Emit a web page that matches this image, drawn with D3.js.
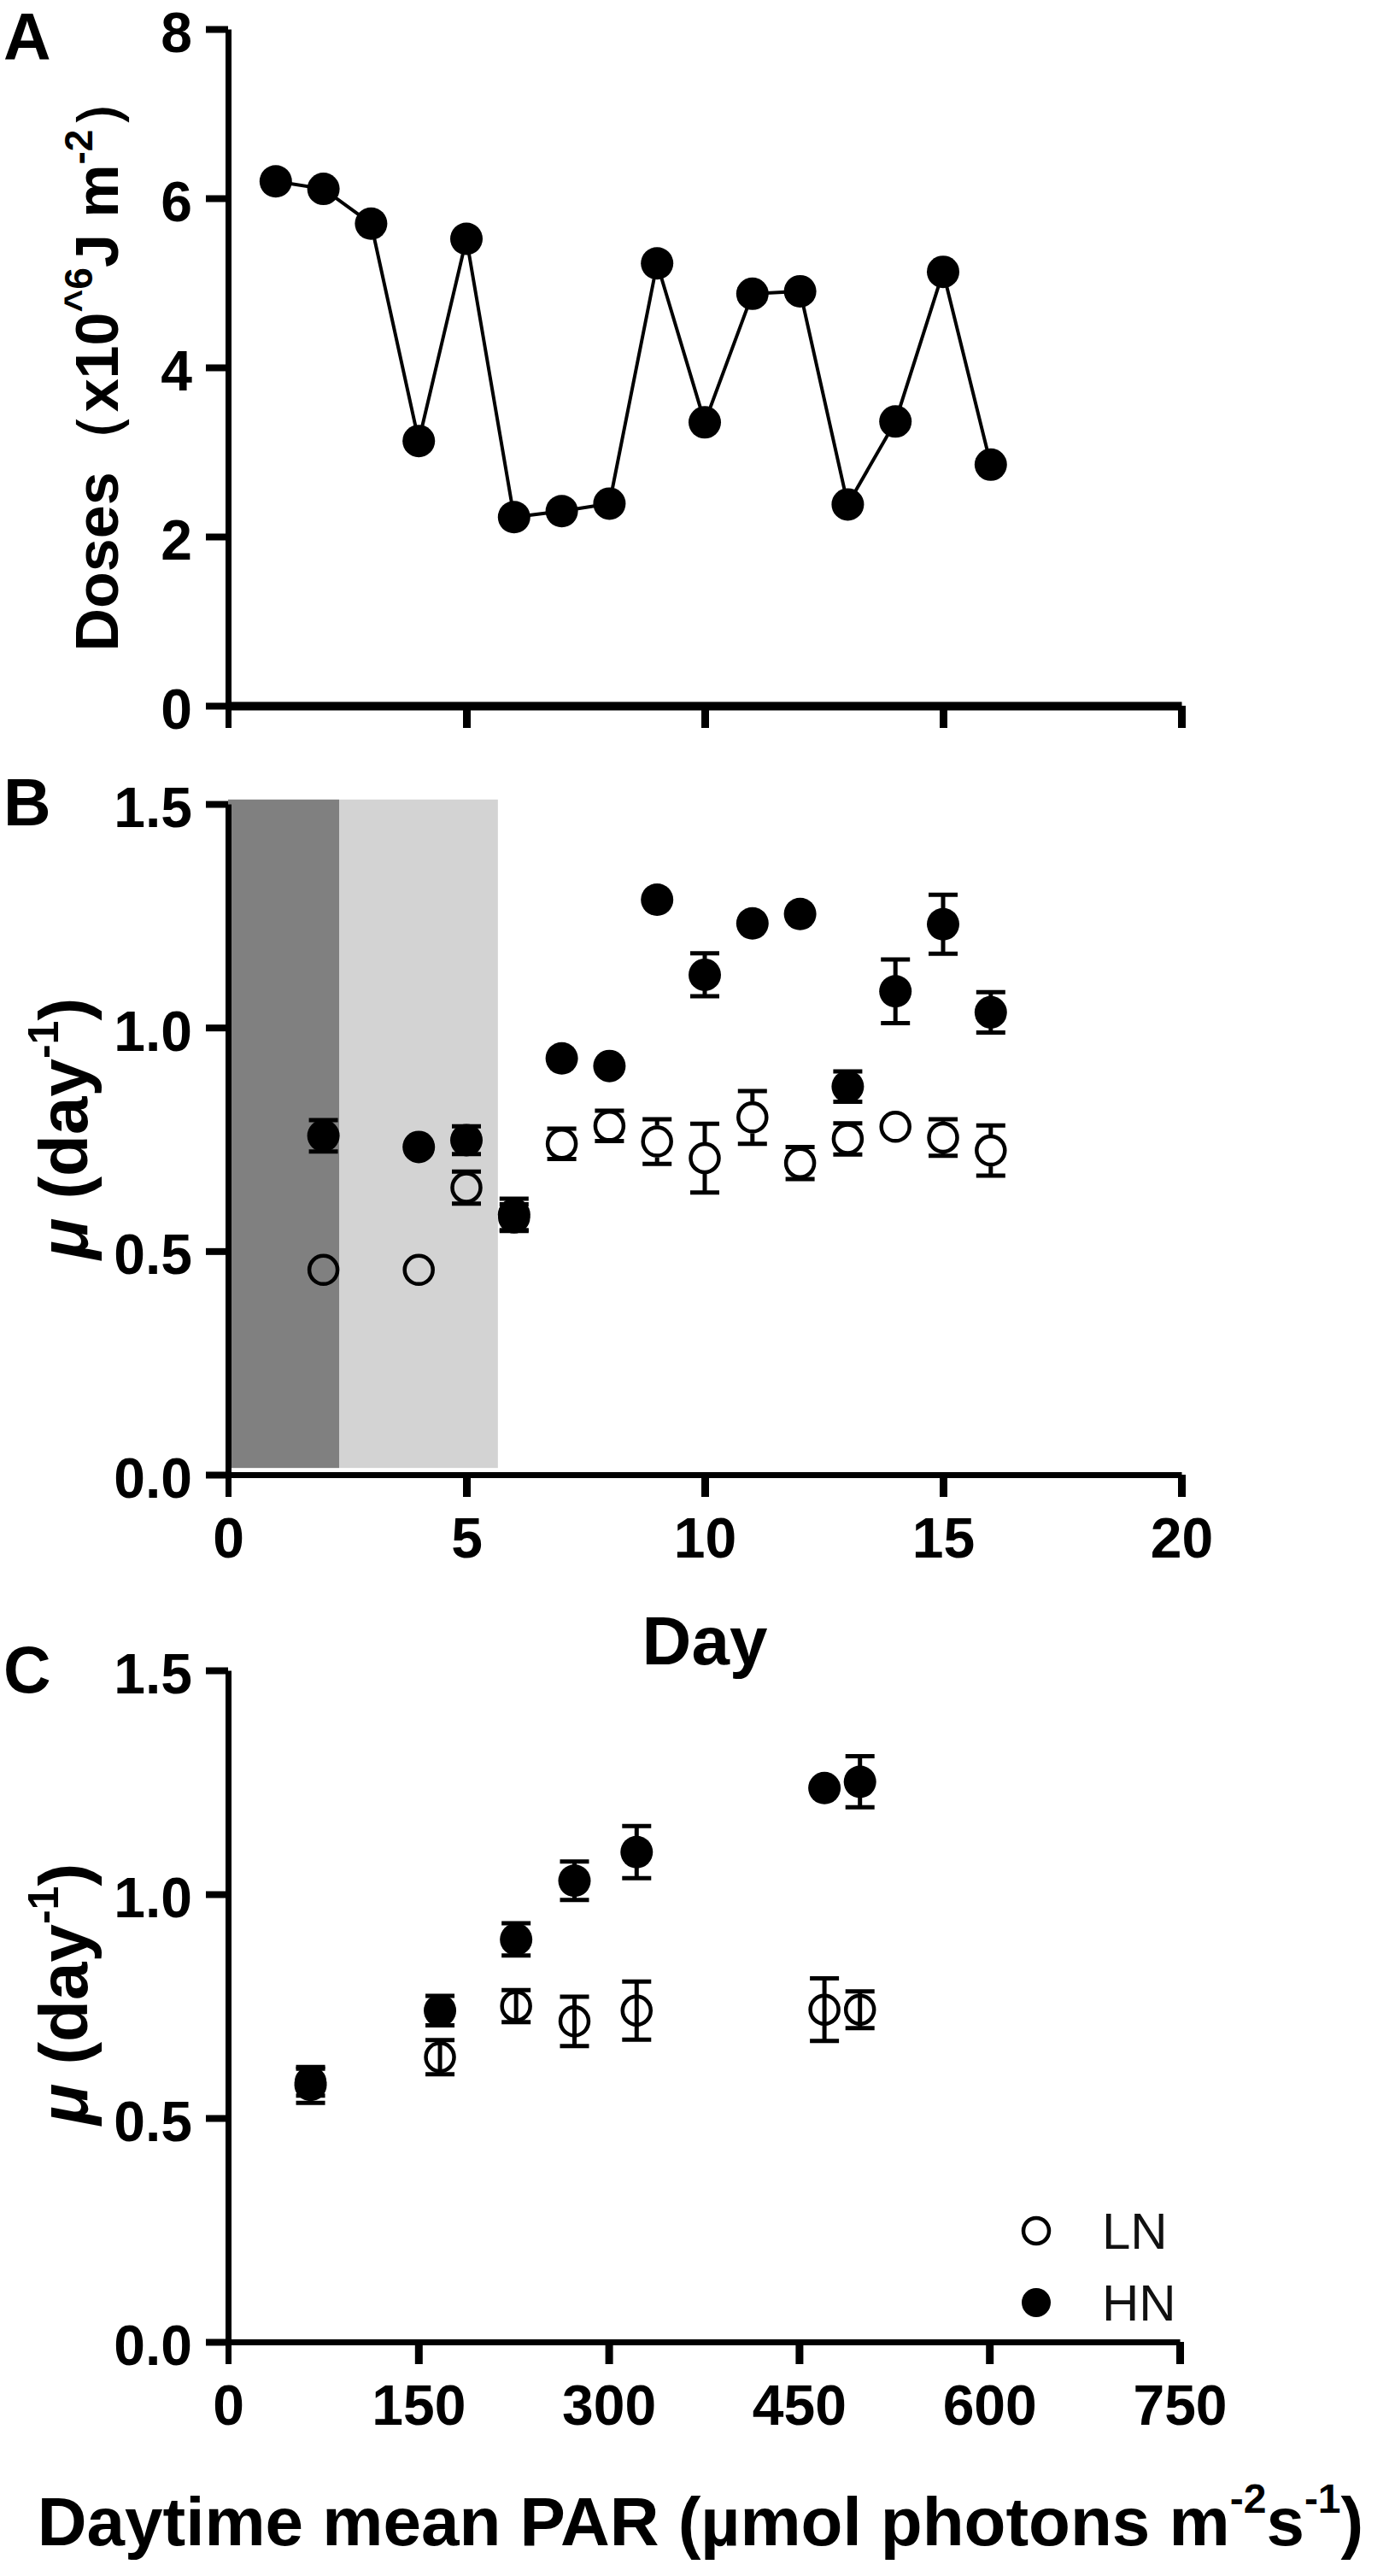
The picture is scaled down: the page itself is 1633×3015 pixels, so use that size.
<!DOCTYPE html>
<html>
<head>
<meta charset="utf-8">
<script src="https://cdn.jsdelivr.net/npm/d3@7"></script>
<style>
html,body{margin:0;padding:0;background:#fff;}
svg{display:block;}
</style>
</head>
<body>
<svg id="chart" width="1633" height="3015"></svg>
<script>
// ---------- DATA ----------
// Panel A: daily doses
const doseDays = [1,2,3,4,5,6,7,8,9,10,11,12,13,14,15,16];
const doseValues = [6.20,6.11,5.70,3.13,5.52,2.23,2.30,2.39,5.23,3.35,4.87,4.90,2.38,3.36,5.13,2.85];
const doseTicks = [0,2,4,6,8];

// Panel B: growth rate by day
const growthDays = [2,4,5,6,7,8,9,10,11,12,13,14,15,16];
const hnMu  = [0.758,0.733,0.748,0.582,0.931,0.914,1.286,1.118,1.233,1.254,0.868,1.081,1.231,1.034];
const hnErr = [0.035,0,0.031,0.035,0,0,0,0.048,0,0,0.034,0.071,0.066,0.045];
const lnMu  = [0.458,0.458,0.642,0.575,0.740,0.780,0.745,0.708,0.799,0.697,0.751,0.778,0.754,0.725];
const lnErr = [0,0,0.036,0.030,0.034,0.034,0.050,0.077,0.059,0.036,0.035,0,0.041,0.056];
const dayTicks = [0,5,10,15,20];
const muTicks = [0,0.5,1.0,1.5];
// shaded periods (day ranges)
const shadeStart = [0,2.33];
const shadeEnd = [2.33,5.66];
const shadeColors = ["#808080","#d3d3d3"];

// Panel C: growth rate vs PAR
const parHN = [65,167,227,273,322,470,498];
const muHN  = [0.574,0.740,0.899,1.030,1.094,1.237,1.251];
const errHN = [0.040,0.033,0.036,0.043,0.058,0,0.057];
const parLN = [65,167,227,273,322,470,498];
const muLN  = [0.580,0.636,0.750,0.716,0.740,0.742,0.742];
const errLN = [0.030,0.038,0.036,0.055,0.065,0.070,0.041];
const parTicks = [0,150,300,450,600,750];

const legendLabels = ["LN","HN"];

// ---------- DRAW ----------
const svg = d3.select("#chart");
const FONT = "'Liberation Sans', Arial, Helvetica, sans-serif";

const xDay = d3.scaleLinear().domain([0,20]).range([267,1383]);
const yA = d3.scaleLinear().domain([0,8]).range([826,34]);
const yB = d3.scaleLinear().domain([0,1.5]).range([1726,941]);
const xC = d3.scaleLinear().domain([0,750]).range([267,1381]);
const yC = d3.scaleLinear().domain([0,1.5]).range([2741,1955]);

function styleAxis(g, domainW, tickW){
  g.attr("font-family", FONT).attr("font-size", 66).attr("font-weight", "bold");
  g.select(".domain").attr("stroke","#000").attr("stroke-width", domainW);
  g.selectAll(".tick line").attr("stroke","#000").attr("stroke-width", tickW);
  g.selectAll(".tick text").attr("fill","#000");
}

function yAxis(scale, ticks, fmt, xPos){
  const g = svg.append("g").attr("transform", `translate(${xPos},0)`)
    .call(d3.axisLeft(scale).tickValues(ticks).tickSize(26).tickSizeOuter(0).tickPadding(16).tickFormat(fmt));
  styleAxis(g, 7, 8);
  g.selectAll(".tick text").attr("dy", "0.4em");
  return g;
}
function xAxis(scale, ticks, fmt, yPos, domainW){
  const g = svg.append("g").attr("transform", `translate(0,${yPos})`)
    .call(d3.axisBottom(scale).tickValues(ticks).tickSize(26).tickSizeOuter(0).tickPadding(24).tickFormat(fmt));
  styleAxis(g, domainW, 9);
  g.selectAll(".tick").filter(d => d === 0).select("line").attr("stroke-width", 7);
  return g;
}

function panelLetter(txt, x, y){
  svg.append("text").attr("x", x).attr("y", y).attr("font-family", FONT)
    .attr("font-size", 77).attr("font-weight", "bold").text(txt);
}

function muLabel(cx, cy){
  const t = svg.append("text").attr("transform", `translate(${cx},${cy}) rotate(-90)`)
    .attr("text-anchor","middle").attr("font-family", FONT).attr("font-size", 80).attr("font-weight","bold");
  t.append("tspan").attr("font-style","italic").text("\u03BC");
  t.append("tspan").text(" (day");
  t.append("tspan").attr("font-size", 50).attr("dy", -34).text("-1");
  t.append("tspan").attr("dy", 34).text(")");
}

// ===== Panel A =====
panelLetter("A", 4, 70);
{
  const t = svg.append("text").attr("transform", `translate(138,422) rotate(-90)`)
    .attr("text-anchor","middle").attr("font-family", FONT).attr("font-size", 70).attr("font-weight","bold");
  t.append("tspan").text("Doses\uFF08x10");
  t.append("tspan").attr("font-size", 46).attr("dy", -30).text("^6");
  t.append("tspan").attr("dy", 30).text("J m");
  t.append("tspan").attr("font-size", 46).attr("dy", -30).text("-2");
  t.append("tspan").attr("dy", 30).text("\uFF09");
}
xAxis(xDay, dayTicks, () => "", yA(0), 10);
yAxis(yA, doseTicks, d3.format("d"), xDay(0));

const doseData = doseDays.map((d,i) => ({day:d, v:doseValues[i]}));
svg.append("path").datum(doseData)
  .attr("fill","none").attr("stroke","#000").attr("stroke-width",4)
  .attr("d", d3.line().x(d => xDay(d.day)).y(d => yA(d.v)));
svg.append("g").selectAll("circle").data(doseData).join("circle")
  .attr("cx", d => xDay(d.day)).attr("cy", d => yA(d.v)).attr("r", 19).attr("fill","#000");

// ===== Panel B =====
panelLetter("B", 4, 966);
svg.append("g").selectAll("rect").data(shadeStart).join("rect")
  .attr("x", (d,i) => xDay(shadeStart[i]))
  .attr("width", (d,i) => xDay(shadeEnd[i]) - xDay(shadeStart[i]))
  .attr("y", yB(1.51)).attr("height", yB(0.015) - yB(1.51))
  .attr("fill", (d,i) => shadeColors[i]);
xAxis(xDay, dayTicks, d3.format("d"), yB(0), 7);
yAxis(yB, muTicks, d3.format(".1f"), xDay(0));
muLabel(102, 1321);
svg.append("text").attr("x", xDay(10)).attr("y", 1948).attr("text-anchor","middle")
  .attr("font-family", FONT).attr("font-size", 80).attr("font-weight","bold").text("Day");

const R_OPEN = 16.5, R_FILL = 19, CAP = 17, EW = 5;

function errBars(g, xs, ys, es, xScale, yScale, rSkip){
  xs.forEach((xv,i) => {
    const e = es[i]; if (!e) return;
    const cx = xScale(xv), cy = yScale(ys[i]);
    const top = yScale(ys[i] + e), bot = yScale(ys[i] - e);
    if (rSkip) {
      if (cy - top > rSkip) {
        g.append("line").attr("x1",cx).attr("x2",cx).attr("y1",top).attr("y2",cy - rSkip).attr("stroke","#000").attr("stroke-width",EW);
        g.append("line").attr("x1",cx).attr("x2",cx).attr("y1",cy + rSkip).attr("y2",bot).attr("stroke","#000").attr("stroke-width",EW);
      }
    } else {
      g.append("line").attr("x1",cx).attr("x2",cx).attr("y1",top).attr("y2",bot).attr("stroke","#000").attr("stroke-width",EW);
    }
    [top, bot].forEach(yy => g.append("line").attr("x1",cx-CAP).attr("x2",cx+CAP).attr("y1",yy).attr("y2",yy)
      .attr("stroke","#000").attr("stroke-width",EW));
  });
}

// LN (open) in B
{
  const g = svg.append("g");
  errBars(g, growthDays, lnMu, lnErr, xDay, yB, R_OPEN + 2);
  g.selectAll("circle").data(growthDays).join("circle")
    .attr("cx", d => xDay(d)).attr("cy", (d,i) => yB(lnMu[i])).attr("r", R_OPEN)
    .attr("fill","none").attr("stroke","#000").attr("stroke-width",4.5);
}
// HN (filled) in B
{
  const g = svg.append("g");
  errBars(g, growthDays, hnMu, hnErr, xDay, yB, 0);
  g.selectAll("circle").data(growthDays).join("circle")
    .attr("cx", d => xDay(d)).attr("cy", (d,i) => yB(hnMu[i])).attr("r", R_FILL).attr("fill","#000");
}

// ===== Panel C =====
panelLetter("C", 4, 1981);
xAxis(xC, parTicks, d3.format("d"), yC(0), 7);
yAxis(yC, muTicks, d3.format(".1f"), xC(0));
muLabel(102, 2334);
{
  const t = svg.append("text").attr("x", 820).attr("y", 2979).attr("text-anchor","middle")
    .attr("font-family", FONT).attr("font-size", 80).attr("font-weight","bold");
  t.append("tspan").text("Daytime mean PAR (\u00B5mol photons m");
  t.append("tspan").attr("font-size", 48).attr("dy", -38).text("-2");
  t.append("tspan").attr("dy", 38).text("s");
  t.append("tspan").attr("font-size", 48).attr("dy", -38).text("-1");
  t.append("tspan").attr("dy", 38).text(")");
}
{
  const g = svg.append("g");
  errBars(g, parLN, muLN, errLN, xC, yC, 0);
  g.selectAll("circle").data(parLN).join("circle")
    .attr("cx", d => xC(d)).attr("cy", (d,i) => yC(muLN[i])).attr("r", R_OPEN)
    .attr("fill","none").attr("stroke","#000").attr("stroke-width",4.5);
}
{
  const g = svg.append("g");
  errBars(g, parHN, muHN, errHN, xC, yC, 0);
  g.selectAll("circle").data(parHN).join("circle")
    .attr("cx", d => xC(d)).attr("cy", (d,i) => yC(muHN[i])).attr("r", R_FILL).attr("fill","#000");
}

// Legend
const legY = [2611, 2695];
const lg = svg.append("g");
lg.selectAll("circle").data(legendLabels).join("circle")
  .attr("cx", 1213).attr("cy", (d,i) => legY[i]).attr("r", (d,i) => i === 0 ? 15 : 17)
  .attr("fill", (d,i) => i === 0 ? "none" : "#000")
  .attr("stroke", "#000").attr("stroke-width", (d,i) => i === 0 ? 4.5 : 0);
lg.selectAll("text").data(legendLabels).join("text")
  .attr("x", 1290).attr("y", (d,i) => legY[i] + 21)
  .attr("font-family", FONT).attr("font-size", 60).attr("fill","#111").text(d => d);
</script>
</body>
</html>
